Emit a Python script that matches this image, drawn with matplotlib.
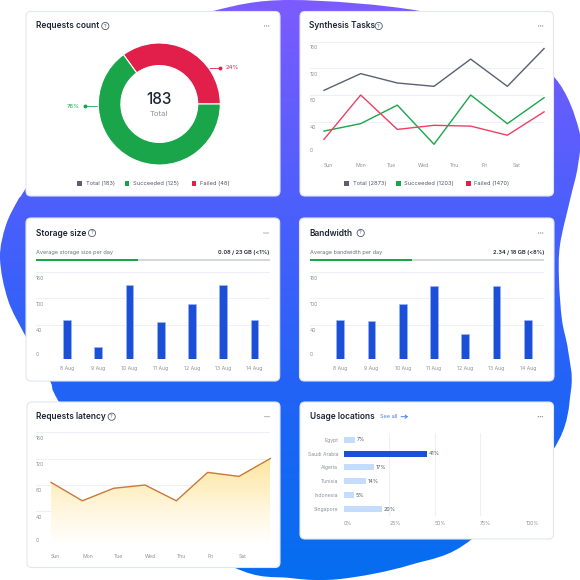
#!/usr/bin/env python3
"""Dashboard mockup: six small cards on a gradient blob. Layout is in image pixels."""
import numpy as np
import matplotlib
matplotlib.use("Agg")
import matplotlib.pyplot as plt
from matplotlib.colors import LinearSegmentedColormap
from matplotlib.patches import Circle, FancyBboxPatch, PathPatch, Rectangle
from matplotlib.path import Path

plt.rcParams["font.family"] = ["Inter", "DejaVu Sans"]

W = 580
INK = "#1d2433"
MUTED = "#8b909b"
GRID = "#edf0f7"
GREEN = "#1aa54b"
RED = "#e21f4b"
SLATE = "#5b5f70"
BLUE = "#1b4fd8"
PALE = "#c4dcfd"

# requests count
DONUT_LABELS = ["24%", "76%"]
DONUT_ARC = [35, 65]  # share of the ring as drawn, not as labelled
LEGEND_1 = ["Total (183)", "Succeeded (125)", "Failed (48)"]

# synthesis tasks
DAYS = ["Sun", "Mon", "Tue", "Wed", "Thu", "Fri", "Sat"]
TASK_TOTAL = [87, 112, 98, 93, 134, 93, 150]
TASK_OK = [29, 38, 65, 13, 80, 38, 76]
TASK_FAIL = [19, 80, 31, 36, 35, 24, 55]
LEGEND_2 = ["Total (2873)", "Succeeded (1203)", "Failed (1470)"]

# bars
AUG = ["8 Aug", "9 Aug", "10 Aug", "11 Aug", "12 Aug", "13 Aug", "14 Aug"]
STORAGE = [51, 14, 130, 47, 88, 130, 51]
BANDWIDTH = [51, 48, 88, 129, 29, 129, 51]

# latency, last point has no day label
LATENCY = [84, 56, 75, 80, 56, 99, 93, 120]

# usage locations
COUNTRIES = ["Egypt", "Saudi Arabia", "Algeria", "Tunisia", "Indonesia", "Singapore"]
USAGE = [6, 45.8, 16.5, 12, 5.3, 20.8]
USAGE_LABELS = ["7%", "41%", "17%", "14%", "5%", "20%"]
USAGE_TICKS = [0, 25, 50, 75, 100]

LINE_TICKS = [0, 40, 80, 120, 160]
LINE_PX = [0, 33, 60, 86.7, 113]
BAR_TICKS = [0, 40, 100, 160]
BAR_PX = [0, 34.5, 61, 87]

fig = plt.figure(figsize=(5.8, 5.8), dpi=100)
bg = fig.add_axes([0, 0, 1, 1])
bg.set_xlim(0, W)
bg.set_ylim(W, 0)
bg.axis("off")


def px_axes(x0, y0, x1, y1):
    ax = fig.add_axes([x0 / W, 1 - y1 / W, (x1 - x0) / W, (y1 - y0) / W])
    ax.patch.set_alpha(0)
    for s in ax.spines.values():
        s.set_visible(False)
    return ax


def blob():
    pts = np.array([(290, 0), (420, 11), (500, 38), (555, 78), (579, 130), (578, 165),
                    (570, 200), (560, 245), (559, 280), (562, 320), (568, 350), (571, 390),
                    (553, 450), (472, 539), (410, 565), (340, 579), (290, 578), (233, 567),
                    (120, 500), (59, 402), (50, 381), (26, 337), (8, 300), (0, 258),
                    (6, 225), (18, 200), (26, 188), (80, 100), (150, 35), (213, 11)], float)
    n = len(pts)
    verts, codes = [pts[0]], [Path.MOVETO]
    for i in range(n):
        p0, p1, p2, p3 = pts[i - 1], pts[i], pts[(i + 1) % n], pts[(i + 2) % n]
        verts += [p1 + (p2 - p0) / 6, p2 - (p3 - p1) / 6, p2]
        codes += [Path.CURVE4] * 3
    patch = PathPatch(Path(verts, codes), fc="none", ec="none", transform=bg.transData)
    bg.add_patch(patch)
    cmap = LinearSegmentedColormap.from_list(
        "blob", ["#7d5bff", "#4f5ffc", "#2263f6", "#056ef0"])
    im = bg.imshow(np.linspace(0, 1, 256)[:, None], cmap=cmap, aspect="auto",
                   extent=(0, W, W, 0), zorder=0)
    im.set_clip_path(patch)
    bg.set_xlim(0, W)
    bg.set_ylim(W, 0)


def card(x0, y0, x1, y1, title, tx, ty, help_x, dots_x):
    bg.add_patch(FancyBboxPatch((x0 + 5, y0 + 5), x1 - x0 - 10, y1 - y0 - 10,
                                boxstyle="round,pad=5,rounding_size=5", fc="white",
                                ec="#e2e6f2", lw=0.8, zorder=1))
    bg.text(tx, ty, title, fontsize=6.0, color=INK, weight="semibold", va="center", zorder=3)
    if help_x:
        bg.add_patch(Circle((help_x, ty), 3.6, fc="none", ec="#50586a", lw=0.6, zorder=3))
        bg.text(help_x, ty, "?", fontsize=3.8, color="#50586a", ha="center", va="center", zorder=3)
    for dx in (-2, 0, 2):
        bg.add_patch(Circle((dots_x + dx, ty), 0.55, fc="#5b6270", ec="none", zorder=3))


def legend(items, colors, square_x, text_x, y):
    for lab, c, sx, tx in zip(items, colors, square_x, text_x):
        bg.add_patch(Rectangle((sx - 2.2, y - 2.2), 4.4, 4.4, fc=c, ec="none", zorder=3))
        bg.text(tx, y, lab, fontsize=4.1, color="#4e5563", va="center", zorder=3)


def value_axis(ax, ticks, px):
    ax.set_yscale("function", functions=(lambda v: np.interp(v, ticks, px),
                                         lambda p: np.interp(p, px, ticks)))
    ax.set_ylim(ticks[0], ticks[-1])
    ax.set_yticks(ticks)
    ax.minorticks_off()
    ax.tick_params(axis="y", length=0, labelleft=False)
    ax.grid(True, axis="y", color=GRID, lw=0.8)
    ax.set_axisbelow(True)
    for t in ticks:
        off = 4.5 if t == 0 else -5.8
        ax.annotate(str(t), (0, t), xycoords=("axes fraction", "data"),
                    textcoords="offset pixels", xytext=(0, off), fontsize=3.7,
                    color=MUTED, va="center", annotation_clip=False)


def day_axis(ax, ticks, first_px, step_px, x0, x1, labels, ha, pad):
    ax.set_xlim((x0 - first_px) / step_px, (x1 - first_px) / step_px)
    ax.set_xticks(ticks)
    ax.set_xticklabels(labels, ha=ha, fontsize=3.7, color=MUTED)
    ax.tick_params(axis="x", length=0, pad=pad)


def bars(x0, x1, first_px, title, help_x, dots_x, caption, figure, done, values):
    card(x0 - 10, 218, x1 + 10, 381, title, x0, 233, help_x, dots_x)
    bg.text(x0, 252.7, caption, fontsize=4.0, color="#6d7380", va="center", zorder=3)
    bg.text(x1, 252.7, figure, fontsize=4.1, color=INK, weight="semibold",
            ha="right", va="center", zorder=3)
    bg.add_patch(Rectangle((x0, 259), x1 - x0, 2, fc="#d3d7de", ec="none", zorder=3))
    bg.add_patch(Rectangle((x0, 259), (x1 - x0) * done, 2, fc=GREEN, ec="none", zorder=3))
    ax = px_axes(x0, 272.3, x1, 359.3)
    value_axis(ax, BAR_TICKS, BAR_PX)
    ax.bar(range(len(values)), values, width=0.25, color=BLUE, edgecolor="#9db8f2",
           linewidth=0.4, zorder=3)
    day_axis(ax, range(len(AUG)), first_px, 31.25, x0, x1, AUG, "center", 5)


blob()

# requests count
card(26, 11.5, 280, 196, "Requests count", 35.7, 26, 105.3, 266.7)
ax = px_axes(159.3 - 61, 104 - 61, 159.3 + 61, 104 + 61)
ax.pie(DONUT_ARC, colors=[RED, GREEN], startangle=0, radius=1,
       wedgeprops=dict(width=0.37, edgecolor="white", linewidth=0.8))
ax.set_xlim(-1, 1)
ax.set_ylim(-1, 1)
bg.text(159.4, 99, "183", fontsize=11, color=INK, weight="medium", ha="center", va="center", zorder=3)
bg.text(159.2, 113.7, "Total", fontsize=5.5, color=MUTED, ha="center", va="center", zorder=3)
bg.plot([208, 220], [67.7, 67.7], color=RED, lw=0.6, zorder=3)
bg.plot([220], [67.7], "o", ms=1.8, color=RED, zorder=3)
bg.text(232, 67.7, DONUT_LABELS[0], fontsize=4.3, color=RED, ha="center", va="center", zorder=3)
bg.plot([84.7, 98.3], [106.3, 106.3], color=GREEN, lw=0.6, zorder=3)
bg.plot([84.7], [106.3], "o", ms=1.8, color=GREEN, zorder=3)
bg.text(72.7, 106.3, DONUT_LABELS[1], fontsize=4.3, color=GREEN, ha="center", va="center", zorder=3)
legend(LEGEND_1, [SLATE, GREEN, RED], [79.3, 126.7, 193.7], [85.7, 133.3, 200], 183.3)

# synthesis tasks
card(300, 11.5, 553.5, 196, "Synthesis Tasks", 309.3, 26, 378.7, 540.7)
ax = px_axes(310, 42, 544, 155)
value_axis(ax, LINE_TICKS, LINE_PX)
for vals, c in ((TASK_TOTAL, SLATE), (TASK_OK, GREEN), (TASK_FAIL, "#ee3f63")):
    ax.plot(range(len(vals)), vals, color=c, lw=1.0, zorder=3, clip_on=False)
day_axis(ax, np.arange(7) * 6 / 7, 324, 36.67, 310, 544, DAYS, "left", 6)
legend(LEGEND_2, [SLATE, GREEN, RED], [346.3, 398.3, 468.3], [352.7, 404.3, 474.3], 183.3)

# storage and bandwidth
bars(36, 269.7, 67, "Storage size", 92, 266, "Average storage size per day",
     "0.08 / 23 GB (<1%)", 0.436, STORAGE)
bars(309.5, 544, 340.3, "Bandwidth", 360.7, 540.7, "Average bandwidth per day",
     "2.34 / 18 GB (<8%)", 0.436, BANDWIDTH)

# requests latency
card(27, 402, 280, 567.5, "Requests latency", 36, 416.7, 111.7, 267)
ax = px_axes(36, 432.3, 270.3, 545.3)
value_axis(ax, LINE_TICKS, [0, 34, 60.3, 86.8, 113])
xs = np.arange(len(LATENCY))
day_axis(ax, range(7), 51, 31.33, 36, 270.3, DAYS, "left", 6)
poly = ax.fill_between(xs, LATENCY, 0, color="none", zorder=1)
fade = LinearSegmentedColormap.from_list("fade", ["#ffffff", "#fde49b"])
ys = np.linspace(0, 125, 80)
mesh = ax.pcolormesh([xs[0], xs[-1]], ys, ((ys[:-1] + ys[1:]) / 250)[:, None], cmap=fade,
                     vmin=0, vmax=1, shading="flat", zorder=1, rasterized=True)
mesh.set_clip_path(Path(poly.get_paths()[0].vertices), ax.transData)
ax.plot(xs, LATENCY, color="#c8793d", lw=1.0, zorder=3, clip_on=False)

# usage locations
card(300, 402, 553.5, 539, "Usage locations", 309.5, 416.7, None, 540.3)
bg.text(380.3, 416.7, "See all", fontsize=4.0, color="#4b7cf3", va="center", zorder=3)
bg.annotate("", (408, 416.7), (401, 416.7), zorder=3,
            arrowprops=dict(arrowstyle="->,head_width=0.12,head_length=0.15", color="#4b7cf3",
                            lw=0.7, shrinkA=0, shrinkB=0))
ax = px_axes(344, 432.7, 525.5, 516)
ax.set_xlim(0, 100)
ax.set_ylim(5.5, -0.5)
ax.set_xticks(USAGE_TICKS)
ax.set_xticklabels([f"{t}%" for t in USAGE_TICKS], ha="left", fontsize=3.7, color=MUTED)
ax.set_yticks(range(len(COUNTRIES)))
ax.set_yticklabels(COUNTRIES, fontsize=3.7, color=MUTED)
ax.tick_params(length=0)
ax.tick_params(axis="x", pad=3.5)
ax.tick_params(axis="y", pad=4.3)
ax.grid(True, axis="x", color=GRID, lw=0.8)
ax.xaxis.get_gridlines()[0].set_visible(False)
ax.set_axisbelow(True)
colors = [BLUE if v == max(USAGE) else PALE for v in USAGE]
ax.barh(range(len(USAGE)), USAGE, height=0.43, color=colors, zorder=3)
for i, (v, lab) in enumerate(zip(USAGE, USAGE_LABELS)):
    ax.annotate(lab, (v, i), textcoords="offset pixels", xytext=(2, 0), fontsize=3.9,
                color="#4e5563", va="center", annotation_clip=False)

fig.savefig("out.png", dpi=100)
